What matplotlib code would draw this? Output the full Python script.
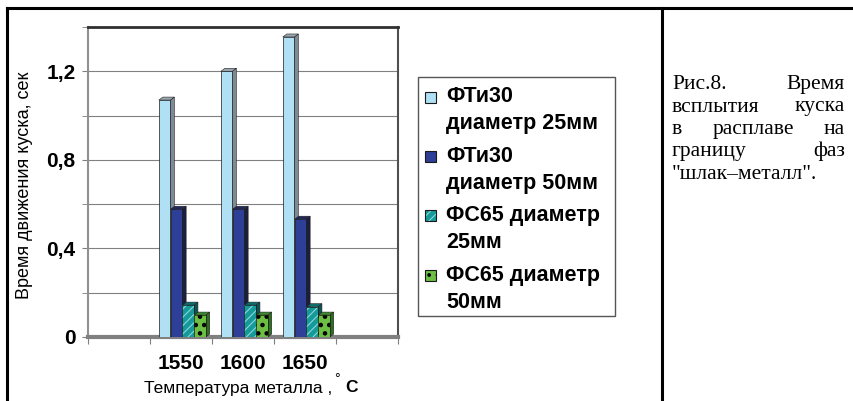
import matplotlib
matplotlib.use('Agg')
import matplotlib.pyplot as plt
from matplotlib.patches import Polygon, Rectangle
from matplotlib.lines import Line2D
import numpy as np

plt.rcParams['font.family'] = ['Liberation Sans', 'DejaVu Sans']
plt.rcParams['hatch.linewidth'] = 0.8

# data
temps = ['1550', '1600', '1650']
ft30_25 = [1.07, 1.20, 1.355]
ft30_50 = [0.577, 0.577, 0.532]
fs65_25 = [0.144, 0.144, 0.137]
fs65_50 = [0.099, 0.099, 0.099]

series = [ft30_25, ft30_50, fs65_25, fs65_50]
labels = ['ФТи30\nдиаметр 25мм', 'ФТи30\nдиаметр 50мм',
          'ФС65 диаметр\n25мм', 'ФС65 диаметр\n50мм']
front = ['#B0E0F4', '#2D3F97', '#15999B', '#6DBE45']
side = ['#7E8A96', '#1B1E3C', '#0B5556', '#2E6E22']
top = ['#9AA5B0', '#22295A', '#0E6D6E', '#3F8A30']
hatch = [None, None, '////', '..']
hatch_col = [None, None, '#8ED6D4', 'black']
hatch_lw = [0.8, 0.8, 0.8, 2.0]

W, H = 854, 401
fig = plt.figure(figsize=(W / 100, H / 100), dpi=100)


def fx(px):
    return px / W


def fy(py):
    return 1 - py / H


ax = fig.add_axes([fx(88), fy(337), (398 - 88) / W, (337 - 27) / H])
ax.set_xlim(0, 5)
ax.set_ylim(0, 1.4)

# 3d-ish bars: front face + side + top
pos = np.array([1.5, 2.5, 3.5])
width = 0.185
offs = (np.arange(4) - 1.5) * 0.19 + 0.02
dx = 4 / 61.0
dy = 3 / 221.7
z = 3
for i, vals in enumerate(series):
    for x, v in zip(pos + offs[i], vals):
        l, r = x - width / 2, x + width / 2
        ax.add_patch(Polygon([(r, 0), (r + dx, dy), (r + dx, v + dy), (r, v)],
                             closed=True, facecolor=side[i], edgecolor='#202020',
                             lw=0.4, zorder=z))
        ax.add_patch(Polygon([(l, v), (l + dx, v + dy), (r + dx, v + dy), (r, v)],
                             closed=True, facecolor=top[i], edgecolor='#202020',
                             lw=0.4, zorder=z))
        z += 1
    if hatch[i]:
        with plt.rc_context({'hatch.linewidth': hatch_lw[i]}):
            ax.bar(pos + offs[i], vals, width, color=front[i], edgecolor=hatch_col[i],
                   hatch=hatch[i], linewidth=0, zorder=z)
        ax.bar(pos + offs[i], vals, width, fill=False, edgecolor='#1a1a1a',
               linewidth=0.5, zorder=z + 0.5)
    else:
        ax.bar(pos + offs[i], vals, width, color=front[i], edgecolor='#1a1a1a',
               linewidth=0.5, zorder=z)
    z += 1

# axes styling
ax.set_yticks([0, 0.4, 0.8, 1.2])
ax.set_yticklabels(['0', '0,4', '0,8', '1,2'], fontsize=15, fontweight='bold')
ax.set_yticks(np.arange(0, 1.41, 0.2), minor=True)
ax.tick_params(axis='y', which='both', direction='out', length=4, color='#808080', pad=5)
ax.grid(axis='y', which='both', color='#808080', lw=0.8, zorder=1)
ax.set_xticks(np.arange(0, 6))
ax.set_xticklabels([])
ax.set_xticks(pos, minor=True)
ax.set_xticklabels(temps, minor=True, fontsize=15, fontweight='bold')
ax.tick_params(axis='x', which='major', direction='out', length=5, color='#808080')
ax.tick_params(axis='x', which='minor', length=0, pad=12)
ax.spines['top'].set_color('#303030')
ax.spines['top'].set_linewidth(2)
ax.spines['right'].set_color('#505050')
ax.spines['right'].set_linewidth(1.5)
ax.spines['left'].set_color('#909090')
ax.spines['left'].set_linewidth(1.5)
ax.spines['bottom'].set_color('#808080')
ax.spines['bottom'].set_linewidth(3)
ax.set_axisbelow(True)

ax.set_ylabel('Время движения куска, сек', fontsize=13)
ax.yaxis.set_label_coords(-0.177, 0.49)

fig.text(fx(144), fy(388), 'Температура металла ,', fontsize=12.5, va='center')
fig.text(fx(334), fy(379), '°', fontsize=10, va='center')
fig.text(fx(345), fy(388), 'С', fontsize=12.5, fontweight='bold', va='center')

# legend drawn by hand so the square sits on the first line
fig.patches.append(Rectangle((fx(418), fy(316)), (615 - 418) / W, (316 - 77) / H,
                             transform=fig.transFigure, fill=False,
                             edgecolor='#555555', lw=1))
for i, lab in enumerate(labels):
    y0 = 97 + i * 59.5
    with plt.rc_context({'hatch.linewidth': min(hatch_lw[i], 1.5)}):
        fig.patches.append(Rectangle((fx(425), fy(y0 + 5.5)), 11 / W, 11 / H,
                                     transform=fig.transFigure, facecolor=front[i],
                                     edgecolor=hatch_col[i] or '#1a1a1a',
                                     hatch=hatch[i], lw=0 if hatch[i] else 0.8))
    if hatch[i]:
        fig.patches.append(Rectangle((fx(425), fy(y0 + 5.5)), 11 / W, 11 / H,
                                     transform=fig.transFigure, fill=False,
                                     edgecolor='#1a1a1a', lw=0.8))
    for k, line in enumerate(lab.split('\n')):
        fig.text(fx(446), fy(y0 + k * 26.5), line, fontsize=15.5, fontweight='bold',
                 va='center')

# caption on the right, justified by hand
caption = [['Рис.8.', 'Время'], ['всплытия', 'куска'], ['в', 'расплаве', 'на'],
           ['границу', 'фаз'], ['"шлак–металл".']]
renderer = fig.canvas.get_renderer()
x_left, x_right = 672, 845
for j, words in enumerate(caption):
    yb = fy(89 + j * 22.5)
    ts = [fig.text(0, yb, w, fontsize=15.5, family='Liberation Serif', va='baseline')
          for w in words]
    widths = [t.get_window_extent(renderer).width for t in ts]
    if len(words) == 1:
        ts[0].set_x(fx(x_left))
        continue
    gap = (x_right - x_left - sum(widths)) / (len(words) - 1)
    xc = x_left
    for t, w in zip(ts, widths):
        t.set_x(fx(xc))
        xc += w + gap

# outer frame
for xs, ys in [([7, 854], [8, 8]), ([7, 7], [8, 401]), ([662, 662], [8, 401])]:
    fig.lines.append(Line2D([fx(v) for v in xs], [fy(v) for v in ys],
                            transform=fig.transFigure, color='black', lw=2.2))

fig.savefig('out.png', dpi=100)
